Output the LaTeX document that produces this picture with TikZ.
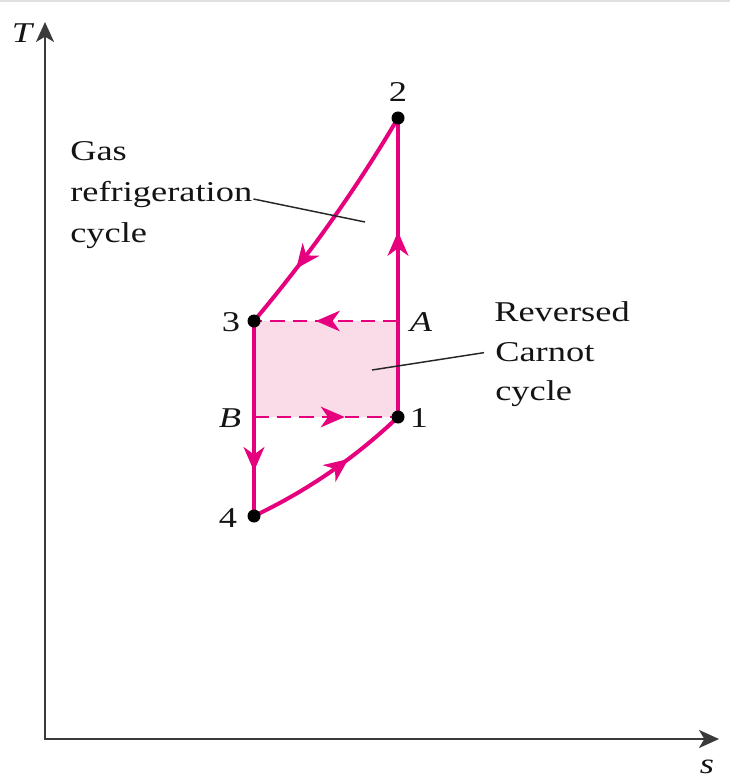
\documentclass[tikz,border=0pt]{standalone}
\usepackage{fontspec}
\setmainfont{Liberation Serif}
\newfontfamily\widefont[FakeStretch=1.27]{Liberation Serif}
\usetikzlibrary{arrows.meta,decorations.markings}
\definecolor{cyc}{HTML}{E6007E}
\definecolor{carnotfill}{HTML}{F9DCE8}
\definecolor{axisgray}{HTML}{3A3A3A}
\tikzset{axistip/.tip={Stealth[length=15pt,width=13.5pt,inset=4pt,color=axisgray]}}
\begin{document}
\begin{tikzpicture}[x=0.75pt,y=-0.75pt,
  cycline/.style={draw=cyc,line width=3pt,line join=round},
  carnotline/.style={draw=cyc,line width=1.5pt,dash pattern=on 11pt off 6pt},
  midarrow/.style={postaction={decorate,solid},decoration={markings,mark=at position #1 with {\arrow{Stealth[length=18pt,width=15.5pt,inset=5.5pt,color=cyc]}}}},
  axisline/.style={draw=axisgray,line width=1.6pt},
  statedot/.style={circle,fill=black,inner sep=0pt,minimum size=9.75pt},
  lbl/.style={font=\widefont\fontsize{21.5}{25}\selectfont,inner sep=0pt,text=black!92},
  ilbl/.style={lbl,font=\widefont\itshape\fontsize{21.5}{25}\selectfont},
  leader/.style={draw=black!85,line width=1.1pt}]
\useasboundingbox (0,0) rectangle (730,784);
% top border line
\coordinate (tl) at (0,1);
\coordinate (tr) at (730,1);
\draw[line width=1.5pt,black!12] (tl) -- (tr);
% axes
\coordinate (O) at (45,739);
\coordinate (ytop) at (45,22);
\coordinate (xend) at (719,739);
\draw[axisline,axistip-axistip] (ytop) -- (O) -- (xend);
\node[ilbl] (Tlab) at (22,33) {T};
\node[ilbl] (slab) at (707,767) {s};
% state points
\coordinate (p1) at (398,417);
\coordinate (p2) at (398,118);
\coordinate (p3) at (254,321);
\coordinate (p4) at (254,516);
\coordinate (pA) at (398,321);
\coordinate (pB) at (254,417);
% Carnot region
\fill[carnotfill] (p3) rectangle (p1);
\draw[carnotline,midarrow=0.57] (pA) -- (p3);
\draw[carnotline,midarrow=0.63] (pB) -- (p1);
% gas refrigeration cycle
\draw[cycline,midarrow=0.62] (p1) -- (p2);
\draw[cycline,midarrow=0.73] (p2) .. controls (355.7,189.7) and (307.7,257.3) .. (p3);
\draw[cycline,midarrow=0.77] (p3) -- (p4);
\draw[cycline,midarrow=0.63] (p4) .. controls (307.3,490.7) and (355.3,457.7) .. (p1);
% dots
\node[statedot] (d1) at (p1) {};
\node[statedot] (d2) at (p2) {};
\node[statedot] (d3) at (p3) {};
\node[statedot] (d4) at (p4) {};
% point labels
\node[lbl] (l2) at (398,92) {2};
\node[lbl] (l3) at (231,322) {3};
\node[lbl] (l4) at (228,518) {4};
\node[lbl] (l1) at (419,418) {1};
\node[ilbl] (lA) at (421,322) {A};
\node[ilbl] (lB) at (230,418) {B};
% Gas refrigeration cycle label
\node[lbl,anchor=base west] (g1) at (70,161) {Gas};
\node[lbl,anchor=base west] (g2) at (70,202) {refrigeration};
\node[lbl,anchor=base west] (g3) at (70,242) {cycle};
\coordinate (gend) at (365,222);
\draw[leader] (g2.east) ++(1,4) -- (gend);
% Reversed Carnot cycle label
\node[lbl,anchor=base west] (r1) at (494,321) {Reversed};
\node[lbl,anchor=base west] (r2) at (495,361) {Carnot};
\node[lbl,anchor=base west] (r3) at (495,400) {cycle};
\coordinate (rend) at (372,370);
\draw[leader] (r2.west) ++(-11,1) -- (rend);
\end{tikzpicture}
\end{document}
